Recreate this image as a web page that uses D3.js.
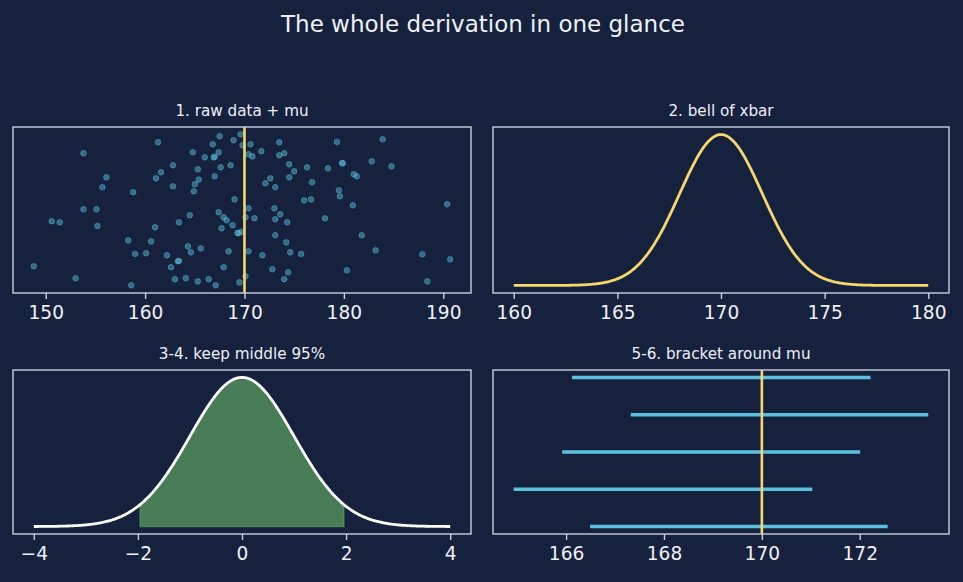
<!DOCTYPE html>
<html>
<head>
<meta charset="utf-8">
<script src="https://cdn.jsdelivr.net/npm/d3@7"></script>
<style>
  body { margin: 0; background: #16213e; }
  text { font-family: "DejaVu Sans", sans-serif; fill: #eef1f7; }
</style>
</head>
<body>
<svg id="chart" width="963" height="582"></svg>
<script>
// raw sample heights (panel 1) and their vertical jitter (0..1 inside the box)
const rawHeights = [
  161.3, 153.8, 161.6, 161.1, 156.1, 155.7, 158.8, 153.8, 155.1, 150.6,
  151.4, 155.2, 161.0, 158.3, 160.6, 159.0, 160.1, 162.2, 148.8, 153.0,
  158.6, 162.6, 167.5, 169.6, 168.9, 166.8, 169.8, 170.6, 164.8, 167.4,
  166.0, 166.9, 170.4, 170.8, 171.7, 173.5, 174.0, 173.5, 162.8, 165.3,
  167.6, 168.6, 174.5, 175.0, 174.5, 176.3, 167.0, 165.4, 165.0, 162.8,
  164.9, 172.6, 172.1, 173.1, 176.8, 169.0, 176.0, 176.7, 170.4, 173.0,
  164.5, 167.4, 167.9, 168.2, 168.8, 170.1, 171.0, 173.6, 173.1, 174.3,
  163.4, 167.7, 169.4, 169.7, 173.1, 174.2, 164.3, 164.6, 165.6, 168.4,
  170.4, 171.8, 174.6, 175.7, 163.3, 167.9, 172.8, 174.4, 163.0, 164.1,
  165.3, 166.4, 167.1, 169.5, 170.1, 174.0, 179.3, 183.9, 179.9, 182.8,
  184.8, 178.4, 181.0, 181.3, 179.5, 179.6, 180.9, 190.4, 178.1, 181.8,
  183.2, 187.9, 190.7, 180.3, 188.4, 167.0, 169.3, 163.4, 179.8
];
const rawJitter = [
  0.908, 0.842, 0.727, 0.691, 0.697, 0.637, 0.607, 0.504, 0.504, 0.432,
  0.426, 0.404, 0.396, 0.317, 0.311, 0.235, 0.239, 0.227, 0.161, 0.089,
  0.046, 0.155, 0.944, 0.956, 0.920, 0.896, 0.890, 0.896, 0.848, 0.848,
  0.817, 0.817, 0.836, 0.823, 0.854, 0.908, 0.842, 0.830, 0.769, 0.745,
  0.757, 0.769, 0.775, 0.733, 0.697, 0.757, 0.703, 0.683, 0.655, 0.643,
  0.613, 0.691, 0.661, 0.637, 0.667, 0.564, 0.558, 0.564, 0.510, 0.510,
  0.468, 0.486, 0.456, 0.438, 0.408, 0.456, 0.450, 0.474, 0.444, 0.426,
  0.426, 0.390, 0.360, 0.369, 0.348, 0.305, 0.281, 0.245, 0.269, 0.251,
  0.251, 0.227, 0.245, 0.235, 0.191, 0.155, 0.143, 0.125, 0.083, 0.089,
  0.070, 0.083, 0.046, 0.064, 0.101, 0.083, 0.910, 0.926, 0.781, 0.793,
  0.763, 0.751, 0.715, 0.703, 0.619, 0.583, 0.528, 0.534, 0.450, 0.348,
  0.257, 0.233, 0.203, 0.137, 0.070, 0.820, 0.362, 0.193, 0.783
];

const mu = 170;
const xbarSd = 2;          // sd of the sampling distribution of xbar
const xbarRange = [160, 180];
const zRange = [-4, 4];
const zCrit = 1.96;

// five confidence intervals, top to bottom (panel 4)
const ciLow  = [166.12, 167.32, 165.92, 164.93, 166.49];
const ciHigh = [172.22, 173.40, 172.01, 171.03, 172.57];

const ticks1 = [150, 160, 170, 180, 190];
const ticks2 = [160, 165, 170, 175, 180];
const ticks3 = [-4, -2, 0, 2, 4];
const ticks4 = [166, 168, 170, 172];

const titles = ['1. raw data + mu', '2. bell of xbar', '3-4. keep middle 95%', '5-6. bracket around mu'];

const YELLOW = '#f5d76e';
const TEAL = '#5bc0de';
const GREEN = '#6abf69';
const FRAME = '#c9d0de';

const svg = d3.select('#chart');

svg.append('text')
  .attr('x', 483)
  .attr('y', 32)
  .attr('text-anchor', 'middle')
  .style('font-size', '23px')
  .text('The whole derivation in one glance');

// panel boxes
const cols = [[13, 471], [493, 949]];
const rows = [[127, 293], [370, 534]];

function pad(ext, f = 0.05) {
  const d = (ext[1] - ext[0]) * f;
  return [ext[0] - d, ext[1] + d];
}

function normal(x, m, s) {
  return Math.exp(-0.5 * ((x - m) / s) ** 2) / (s * Math.sqrt(2 * Math.PI));
}

function makePanel(i, xDomain, tickVals) {
  const [x0, x1] = cols[i % 2];
  const [y0, y1] = rows[Math.floor(i / 2)];
  const g = svg.append('g');
  const x = d3.scaleLinear().domain(xDomain).range([x0, x1]);

  g.append('text')
    .attr('x', (x0 + x1) / 2)
    .attr('y', y0 - 11.5)
    .attr('text-anchor', 'middle')
    .style('font-size', '15.2px')
    .text(titles[i]);

  const plot = g.append('g');

  const axis = g.append('g')
    .attr('transform', `translate(0,${y1})`)
    .call(d3.axisBottom(x).tickValues(tickVals).tickSize(6).tickPadding(7));
  axis.select('.domain').remove();
  axis.selectAll('line').attr('stroke', FRAME).attr('stroke-width', 1.4);
  axis.selectAll('text').style('font-size', '18.6px').attr('fill', '#eef1f7');

  // frame drawn after so it sits on top
  g.append('rect')
    .attr('x', x0).attr('y', y0)
    .attr('width', x1 - x0).attr('height', y1 - y0)
    .attr('fill', 'none')
    .attr('stroke', FRAME)
    .attr('stroke-width', 1.4);

  return { plot, x, y0, y1 };
}

// ---- panel 1: raw data + mu
{
  const p = makePanel(0, pad(d3.extent(rawHeights)), ticks1);
  const y = d3.scaleLinear().domain([0, 1]).range([p.y1, p.y0]);
  p.plot.selectAll('circle')
    .data(rawHeights)
    .join('circle')
    .attr('cx', d => p.x(d))
    .attr('cy', (d, i) => y(rawJitter[i]))
    .attr('r', 2.8)
    .attr('fill', TEAL)
    .attr('fill-opacity', 0.45)
    .attr('stroke', TEAL)
    .attr('stroke-opacity', 0.45)
    .attr('stroke-width', 1);
  p.plot.append('line')
    .attr('x1', p.x(mu)).attr('x2', p.x(mu))
    .attr('y1', p.y0).attr('y2', p.y1)
    .attr('stroke', YELLOW)
    .attr('stroke-width', 2.6);
}

// ---- panel 2: bell of xbar
{
  const p = makePanel(1, pad(xbarRange), ticks2);
  const xs = d3.range(0, 401).map(k => xbarRange[0] + (xbarRange[1] - xbarRange[0]) * k / 400);
  const peak = normal(mu, mu, xbarSd);
  const y = d3.scaleLinear().domain(pad([0, peak])).range([p.y1, p.y0]);
  p.plot.append('path')
    .datum(xs)
    .attr('d', d3.line().x(d => p.x(d)).y(d => y(normal(d, mu, xbarSd))))
    .attr('fill', 'none')
    .attr('stroke', YELLOW)
    .attr('stroke-width', 2.8);
}

// ---- panel 3: keep middle 95%
{
  const p = makePanel(2, pad(zRange), ticks3);
  const xs = d3.range(0, 401).map(k => zRange[0] + (zRange[1] - zRange[0]) * k / 400);
  const peak = normal(0, 0, 1);
  const y = d3.scaleLinear().domain(pad([0, peak])).range([p.y1, p.y0]);
  const mid = xs.filter(d => d >= -zCrit && d <= zCrit);
  mid.unshift(-zCrit);
  mid.push(zCrit);
  p.plot.append('path')
    .datum(mid)
    .attr('d', d3.area().x(d => p.x(d)).y0(y(0)).y1(d => y(normal(d, 0, 1))))
    .attr('fill', GREEN)
    .attr('fill-opacity', 0.58)
    .attr('stroke', GREEN)
    .attr('stroke-opacity', 0.5)
    .attr('stroke-width', 1.2);
  p.plot.append('path')
    .datum(xs)
    .attr('d', d3.line().x(d => p.x(d)).y(d => y(normal(d, 0, 1))))
    .attr('fill', 'none')
    .attr('stroke', '#ffffff')
    .attr('stroke-width', 2.8);
}

// ---- panel 4: bracket around mu
{
  const p = makePanel(3, pad([d3.min(ciLow), d3.max(ciHigh)]), ticks4);
  const idx = d3.range(ciLow.length);
  const y = d3.scaleLinear().domain(pad([0, ciLow.length - 1])).range([p.y0, p.y1]);
  p.plot.selectAll('line.ci')
    .data(idx)
    .join('line')
    .attr('class', 'ci')
    .attr('x1', i => p.x(ciLow[i]))
    .attr('x2', i => p.x(ciHigh[i]))
    .attr('y1', i => y(i))
    .attr('y2', i => y(i))
    .attr('stroke', TEAL)
    .attr('stroke-width', 3.4);
  p.plot.append('line')
    .attr('x1', p.x(mu)).attr('x2', p.x(mu))
    .attr('y1', p.y0).attr('y2', p.y1)
    .attr('stroke', YELLOW)
    .attr('stroke-width', 2.6);
}
</script>
</body>
</html>
